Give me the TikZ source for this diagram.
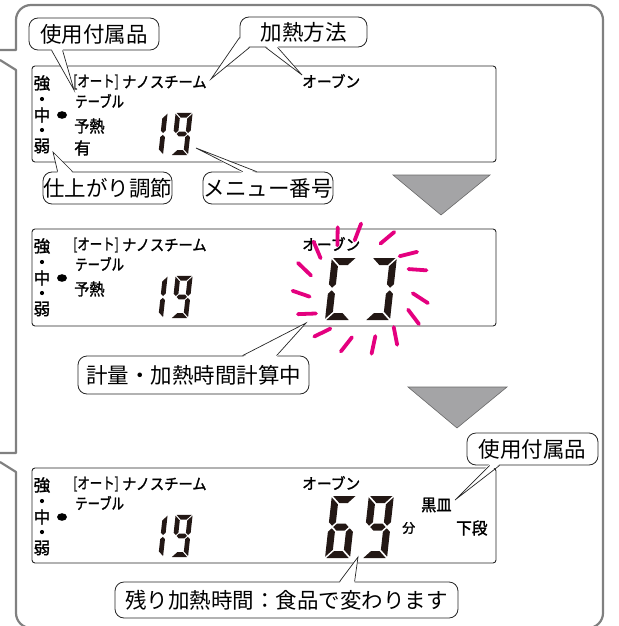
\documentclass[tikz,border=0pt]{standalone}
\usepackage{fontspec}
\usepackage{graphicx}
\setmainfont{Noto Sans CJK JP}
\newfontfamily\dispfont[FakeBold=1.6]{Noto Sans CJK JP}
\usetikzlibrary{calc}
\definecolor{panelgray}{RGB}{128,128,128}
\definecolor{trifill}{RGB}{164,164,166}
\definecolor{triedge}{RGB}{105,105,105}
\definecolor{raycol}{RGB}{228,0,127}
\definecolor{segcol}{RGB}{35,24,21}
\newcommand\dsega{(1.3,62) -- (23.7,62) -- (16.7,55) -- (8.3,55) -- cycle}
\newcommand\dsegb{(25,60.7) -- (25,35.8) -- (21.5,32.3) -- (18,35.8) -- (18,53.7) -- cycle}
\newcommand\dsegc{(25,1.3) -- (25,26.2) -- (21.5,29.7) -- (18,26.2) -- (18,8.3) -- cycle}
\newcommand\dsegd{(1.3,0) -- (23.7,0) -- (16.7,7) -- (8.3,7) -- cycle}
\newcommand\dsege{(0,1.3) -- (0,26.2) -- (3.5,29.7) -- (7,26.2) -- (7,8.3) -- cycle}
\newcommand\dsegf{(0,60.7) -- (7,53.7) -- (7,35.8) -- (3.5,32.3) -- (0,35.8) -- cycle}
\newcommand\dsegg{(4.8,31) -- (8.3,34.5) -- (16.7,34.5) -- (20.2,31) -- (16.7,27.5) -- (8.3,27.5) -- cycle}
\newcommand\sevenseg[4]{\begin{scope}[shift={(#1,#2)},xslant=0.11,scale=#3,yscale=-1]
\foreach \s in {#4}{\fill[segcol] \csname dseg\s\endcsname;}
\end{scope}}
\tikzset{
  lcd/.style={draw=black!85, line width=0.9pt, rounded corners=3pt, inner sep=0pt},
  lbl/.style={draw=black!85, line width=0.8pt, rounded corners=9pt, fill=white, inner sep=0pt, font=\fontsize{21.5}{24}\selectfont},
  tail/.style={draw=black!85, line width=0.7pt, line join=miter},
  dtxt/.style={inner sep=0pt, anchor=west, font=\dispfont\fontsize{15.5}{17}\selectfont},
  ktxt/.style={inner sep=0pt, anchor=west, font=\dispfont\fontsize{16.5}{18}\selectfont},
  stxt/.style={inner sep=0pt, anchor=west, font=\dispfont\fontsize{13}{14}\selectfont},
  downtri/.style={fill=trifill, draw=triedge, line width=0.6pt},
  rays/.style={draw=raycol, line width=3.8pt, line cap=round}
}
\newcommand\panelleft[2]{%
  \node[ktxt] (qa#2) at (33.5,#1+17) {強};
  \fill (42,#1+33) circle (2.1);
  \node[ktxt] (qb#2) at (33.5,#1+49) {中};
  \fill (42,#1+64) circle (2.1);
  \node[ktxt] (qc#2) at (33.5,#1+80) {弱};
  \fill (62,#1+49) ellipse (5 and 3.8);
  \node[dtxt] (au#2) at (73,#1+16) {\scalebox{0.8}[1]{[オート]}};
  \node[dtxt] (ns#2) at (122,#1+16) {\scalebox{0.92}[1]{ナノスチーム}};
  \node[dtxt] (tb#2) at (75,#1+35) {\scalebox{0.8}[1]{テーブル}};
  \node[dtxt] (ov#2) at (302,#1+15) {\scalebox{0.95}[1]{オーブン}};
  \sevenseg{146}{#1+89}{0.68}{b,c}
  \sevenseg{171}{#1+89}{0.68}{a,b,c,d,f,g}
}
\begin{document}
\begin{tikzpicture}[x=1pt,y=-1pt]
\useasboundingbox (0,0) rectangle (618,626);
\begin{scope}
\clip (0,0) rectangle (618,626);
% outer frame
\draw[panelgray, line width=2.2pt, line join=round]
  (0,50) -- (16,50) -- (16,20) arc[start angle=180,end angle=270,radius=15]
  -- (588,5) arc[start angle=270,end angle=360,radius=15]
  -- (603,613) arc[start angle=0,end angle=90,radius=15]
  -- (31,628) arc[start angle=90,end angle=180,radius=15]
  -- (16,472) -- (0,462);
\draw[panelgray, line width=2.2pt, line join=round]
  (0,60) -- (16,70) -- (16,453) -- (0,453);
\end{scope}

% LCD panels
\node[lcd, minimum width=464pt, minimum height=96pt] (p1) at (264,114) {};
\node[lcd, minimum width=464pt, minimum height=97pt] (p2) at (264,277.5) {};
\node[lcd, minimum width=464pt, minimum height=95pt] (p3) at (264,515.5) {};

% panel 1
\panelleft{66}{1}
\node[ktxt] (yn1) at (74,126) {\scalebox{0.92}[1]{予熱}};
\node[ktxt] (ar1) at (74,148) {有};

% panel 2
\panelleft{229}{2}
\node[ktxt] (yn2) at (74,289) {\scalebox{0.92}[1]{予熱}};
\sevenseg{325}{320}{1}{a,f,e,d}
\sevenseg{365}{320}{1}{a,b,c,d}
\coordinate (cj) at (361,289);
\foreach \a [evaluate=\a as \b using \a+28] in {5,25,51,74,100,126,150,171,196,219,243,263,292,318,336}{
  \draw[rays] ($(cj)+(\a:52 and 49)$) -- ++(\b:18);
}

% panel 3
\panelleft{468}{3}
\sevenseg{325}{558}{1}{a,f,g,e,d,c}
\sevenseg{362}{558}{1}{a,b,c,d,f,g}
\node[stxt] (fun) at (402,528) {分};
\node[ktxt] (kz) at (421,505) {\scalebox{0.92}[1]{黒皿}};
\node[ktxt] (gd) at (456,528) {\scalebox{0.95}[1]{下段}};

% down arrows
\path[downtri] (393,175) -- (490,175) -- (441,215) -- cycle;
\path[downtri] (408,387) -- (507,387) -- (457,428) -- cycle;

% callouts
\node[lbl, minimum width=130pt, minimum height=32pt] (u1) at (94,34) {使用付属品};
\coordinate (u1t) at (74,90);
\fill[white] ($(u1.south west)+(23,-1.5)$) -- (u1t) -- ($(u1.south west)+(34,-1.5)$) -- cycle;
\draw[tail] ($(u1.south west)+(23,0)$) -- (u1t) -- ($(u1.south west)+(34,0)$);

\node[lbl, minimum width=127pt, minimum height=30pt] (kh) at (303.5,32) {加熱方法};
\coordinate (kta) at (211,79);
\coordinate (ktb) at (302,75);
\fill[white] ($(kh.south west)+(1.5,-10)$) -- (kta) -- ($(kh.south west)+(10,-1.5)$) -- cycle;
\draw[tail] ($(kh.south west)+(0,-10)$) -- (kta) -- ($(kh.south west)+(10,0)$);
\fill[white] ($(kh.south west)+(26,-1.5)$) -- (ktb) -- ($(kh.south west)+(38,-1.5)$) -- cycle;
\draw[tail] ($(kh.south west)+(26,0)$) -- (ktb) -- ($(kh.south west)+(38,0)$);

\node[lbl, minimum width=129pt, minimum height=32pt] (sh) at (107.5,188) {仕上がり調節};
\coordinate (sht) at (53,152);
\fill[white] ($(sh.north west)+(15,1.5)$) -- (sht) -- ($(sh.north west)+(30,1.5)$) -- cycle;
\draw[tail] ($(sh.north west)+(15,0)$) -- (sht) -- ($(sh.north west)+(30,0)$);

\node[lbl, minimum width=130pt, minimum height=32pt] (mn) at (268,188) {メニュー番号};
\coordinate (mnt) at (196,148);
\fill[white] ($(mn.north west)+(40,1.5)$) -- (mnt) -- ($(mn.north west)+(54,1.5)$) -- cycle;
\draw[tail] ($(mn.north west)+(40,0)$) -- (mnt) -- ($(mn.north west)+(54,0)$);

\node[lbl, minimum width=231pt, minimum height=38pt] (kk) at (193.5,375) {計量・加熱時間計算中};
\coordinate (kkt) at (306,323);
\fill[white] ($(kk.north west)+(165,1.5)$) -- (kkt) -- ($(kk.north west)+(199,1.5)$) -- cycle;
\draw[tail] ($(kk.north west)+(165,0)$) -- (kkt) -- ($(kk.north west)+(199,0)$);

\node[lbl, minimum width=131pt, minimum height=32pt] (u3) at (532.5,449) {使用付属品};
\coordinate (u3t) at (455,500);
\fill[white] ($(u3.south west)+(23,-1.5)$) -- (u3t) -- ($(u3.south west)+(33,-1.5)$) -- cycle;
\draw[tail] ($(u3.south west)+(23,0)$) -- (u3t) -- ($(u3.south west)+(33,0)$);

\node[lbl, minimum width=343pt, minimum height=36pt] (nk) at (286.5,600) {残り加熱時間：食品で変わります};
\coordinate (nkt) at (358,557);
\fill[white] ($(nk.north west)+(225,1.5)$) -- (nkt) -- ($(nk.north west)+(240,1.5)$) -- cycle;
\draw[tail] ($(nk.north west)+(225,0)$) -- (nkt) -- ($(nk.north west)+(240,0)$);
\end{tikzpicture}
\end{document}
